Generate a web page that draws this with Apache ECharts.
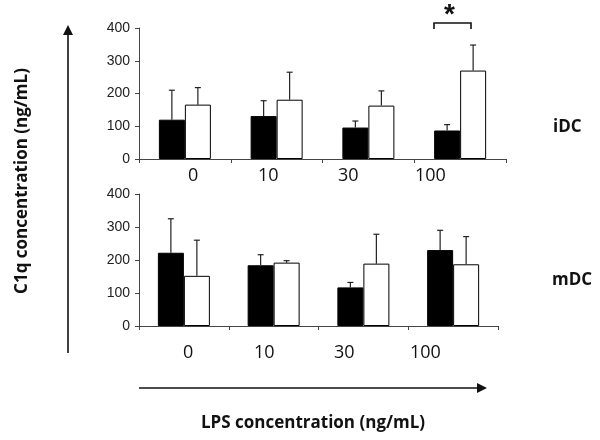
<!DOCTYPE html>
<html><head><meta charset="utf-8">
<script src="https://cdn.jsdelivr.net/npm/echarts@6/dist/echarts.min.js"></script>
<style>html,body{margin:0;padding:0;background:#fff}#c{width:600px;height:440px}</style>
</head><body><div id="c"></div>
<script>
var categories = ['0', '10', '30', '100'];
var tickLabels = ['0', '10', '30', '100'];
var iDC_black = [120, 131, 96, 87];
var iDC_black_err = [90, 47, 20, 18];
var iDC_white = [166, 181, 163, 270];
var iDC_white_err = [52, 84, 45, 78];
var mDC_black = [222, 184, 117, 230];
var mDC_black_err = [103, 32, 15, 60];
var mDC_white = [152, 192, 189, 187];
var mDC_white_err = [108, 6, 89, 84];

var chart = echarts.init(document.getElementById('c'), null, {renderer: 'canvas'});

function errSeries(xi, yi, vals, errs, side) {
  return {
    type: 'custom', xAxisIndex: xi, yAxisIndex: yi, z: 5,
    data: vals.map(function (v, i) { return [i, v, v + errs[i]]; }),
    renderItem: function (params, api) {
      var p0 = api.coord([api.value(0), api.value(1)]);
      var p1 = api.coord([api.value(0), api.value(2)]);
      var x = p0[0] + side * 13;
      return {type: 'group', children: [
        {type: 'line', shape: {x1: x, y1: p0[1], x2: x, y2: p1[1]}, style: {stroke: '#222', lineWidth: 1.2}},
        {type: 'line', shape: {x1: x - 3, y1: p1[1], x2: x + 3, y2: p1[1]}, style: {stroke: '#222', lineWidth: 1.2}}
      ]};
    }
  };
}

function xAx(gi) {
  return {type: 'category', gridIndex: gi, data: categories,
    axisLine: {lineStyle: {color: '#444', width: 1}},
    axisTick: {show: true, length: 4, lineStyle: {color: '#444'}},
    axisLabel: {show: false}};
}
function yAx(gi) {
  return {type: 'value', gridIndex: gi, min: 0, max: 400, interval: 100,
    splitLine: {show: false},
    axisLine: {show: true, lineStyle: {color: '#444', width: 1}},
    axisTick: {show: true, length: 4, lineStyle: {color: '#444'}},
    axisLabel: {fontFamily: 'Liberation Sans', fontSize: 14, color: '#222', margin: 9}};
}

var graphics = [];
var topLabelX = [188, 258, 338, 415];
var botLabelX = [183, 254, 334, 410];
tickLabels.forEach(function (t, i) {
  graphics.push({type: 'text', left: topLabelX[i], top: 167, style: {text: t, font: '18px "Open Sans"', fill: '#111', textAlign: 'center'}});
  graphics.push({type: 'text', left: botLabelX[i], top: 344, style: {text: t, font: '18px "Open Sans"', fill: '#111', textAlign: 'center'}});
});

var option = {
  animation: false,
  backgroundColor: '#fff',
  grid: [
    {left: 139, right: 94, top: 28, height: 131},
    {left: 139, right: 102, top: 194, height: 132}
  ],
  xAxis: [xAx(0), xAx(1)],
  yAxis: [yAx(0), yAx(1)],
  series: [
    {type: 'bar', xAxisIndex: 0, yAxisIndex: 0, data: iDC_black, barWidth: 26, barGap: '0%', itemStyle: {color: '#000', borderColor: '#000', borderWidth: 1}},
    {type: 'bar', xAxisIndex: 0, yAxisIndex: 0, data: iDC_white, barWidth: 26, barGap: '0%', itemStyle: {color: '#fff', borderColor: '#000', borderWidth: 1}},
    {type: 'bar', xAxisIndex: 1, yAxisIndex: 1, data: mDC_black, barWidth: 26, barGap: '0%', itemStyle: {color: '#000', borderColor: '#000', borderWidth: 1}},
    {type: 'bar', xAxisIndex: 1, yAxisIndex: 1, data: mDC_white, barWidth: 26, barGap: '0%', itemStyle: {color: '#fff', borderColor: '#000', borderWidth: 1}},
    errSeries(0, 0, iDC_black, iDC_black_err, -1),
    errSeries(0, 0, iDC_white, iDC_white_err, 1),
    errSeries(1, 1, mDC_black, mDC_black_err, -1),
    errSeries(1, 1, mDC_white, mDC_white_err, 1)
  ],
  graphic: graphics.concat([
    {type: 'polyline', shape: {points: [[434, 29], [434, 23], [471, 23], [471, 29]]}, style: {stroke: '#111', lineWidth: 1.6, fill: null}},
    {type: 'text', left: 444, top: 1, style: {text: '*', font: 'bold 28px "Liberation Sans"', fill: '#111'}},
    {type: 'text', left: 553, top: 119, style: {text: 'iDC', font: 'bold 17px "Open Sans"', fill: '#111'}},
    {type: 'text', left: 552, top: 272, style: {text: 'mDC', font: 'bold 17px "Open Sans"', fill: '#111'}},
    {type: 'line', shape: {x1: 68, y1: 353, x2: 68, y2: 34}, style: {stroke: '#111', lineWidth: 1.6}},
    {type: 'polygon', shape: {points: [[68, 25], [63, 35], [73, 35]]}, style: {fill: '#111'}},
    {type: 'line', shape: {x1: 139, y1: 388, x2: 478, y2: 388}, style: {stroke: '#111', lineWidth: 1.6}},
    {type: 'polygon', shape: {points: [[487, 388], [477, 383], [477, 393]]}, style: {fill: '#111'}},
    {type: 'text', x: 22, y: 181, rotation: Math.PI / 2, style: {text: 'C1q concentration (ng/mL)', font: 'bold 17px "Open Sans"', fill: '#111', textAlign: 'center', textVerticalAlign: 'middle'}},
    {type: 'text', x: 313, y: 423, style: {text: 'LPS concentration (ng/mL)', font: 'bold 17px "Open Sans"', fill: '#111', textAlign: 'center', textVerticalAlign: 'middle'}}
  ])
};
chart.setOption(option);
</script>
</body></html>
